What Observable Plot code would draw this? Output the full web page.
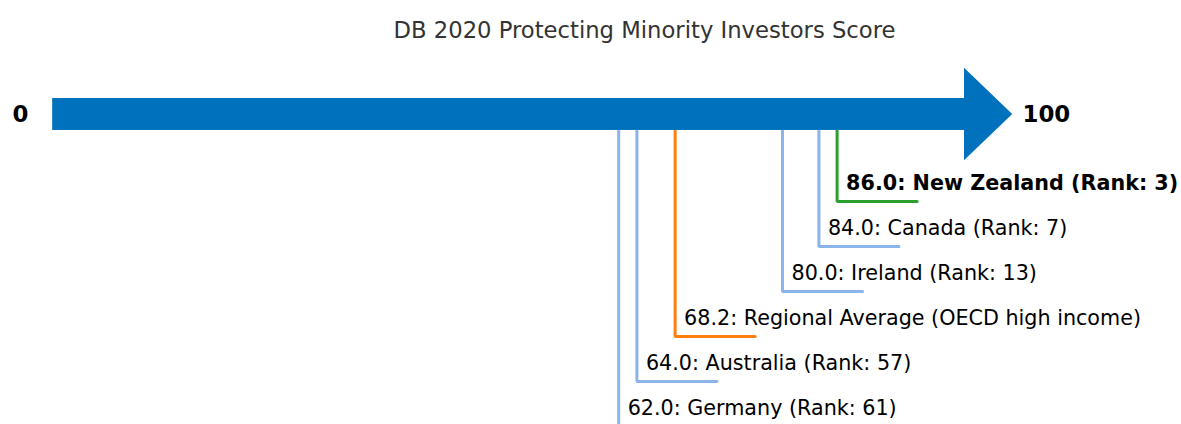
<!DOCTYPE html>
<html>
<head>
<meta charset="utf-8">
<script src="https://cdn.jsdelivr.net/npm/d3@7"></script>
<script src="https://cdn.jsdelivr.net/npm/@observablehq/plot@0.6"></script>
<style>
  html, body { margin: 0; padding: 0; background: #fff; }
  svg { display: block; }
</style>
</head>
<body>
<div id="chart"></div>
<script>
// ---- data ----
const names = ["New Zealand", "Canada", "Ireland", "Regional Average (OECD high income)", "Australia", "Germany"];
const scores = [86.0, 84.0, 80.0, 68.2, 64.0, 62.0];
const ranks = [3, 7, 13, null, 57, 61];
const kinds = ["focus", "peer", "peer", "region", "peer", "peer"];
const title = "DB 2020 Protecting Minority Investors Score";
const axisMin = 0;
const axisMax = 100;

// ---- layout helpers (not data) ----
const W = 1181, H = 424;
const arrowY = 2.533, arrowHalf = 0.355, headHalf = 1.03, headLen = 5.3;
const firstRow = 4.467, legLen = 8.8;
const colors = {focus: "#2ca02c", peer: "#8ab4ea", region: "#ff7f0e"};

const rows = names.map((n, i) => ({
  name: n, score: scores[i], rank: ranks[i], kind: kinds[i],
  row: firstRow + i,
  label: `${scores[i].toFixed(1)}: ${n}` + (ranks[i] != null ? ` (Rank: ${ranks[i]})` : "")
}));
const pts = rows.flatMap(r => [
  {id: r.name, kind: r.kind, x: r.score, y: arrowY + arrowHalf},
  {id: r.name, kind: r.kind, x: r.score, y: r.row},
  {id: r.name, kind: r.kind, x: r.score + legLen, y: r.row}
]);

const chart = Plot.plot({
  width: W, height: H,
  marginLeft: 54, marginRight: W - 964, marginTop: 0, marginBottom: 0,
  x: {domain: [axisMin, axisMax], axis: null},
  y: {domain: [0, H / 45], range: [0, H], axis: null},
  style: {fontFamily: "DejaVu Sans, sans-serif", background: "#fff"},
  marks: [
    Plot.text([title], {frameAnchor: "top", dy: 30, dx: 135, text: d => d, fontSize: 22.7, fill: "#333", lineAnchor: "middle"}),
    Plot.line(pts, {x: "x", y: "y", z: "id", stroke: d => colors[d.kind], strokeWidth: 3, strokeLinejoin: "miter"}),
    Plot.rect([0], {x1: -0.2, x2: axisMax, y1: arrowY - arrowHalf, y2: arrowY + arrowHalf, fill: "#0071bc"}),
    Plot.areaY([{x: axisMax, y1: arrowY - headHalf, y2: arrowY + headHalf}, {x: axisMax + headLen, y1: arrowY, y2: arrowY}],
      {x: "x", y1: "y1", y2: "y2", fill: "#0071bc"}),
    Plot.text([axisMin], {x: d => d, y: arrowY, text: d => String(d), dx: -34, fontSize: 22.9, fontWeight: "bold", fill: "#000"}),
    Plot.text([axisMax], {x: d => d, y: arrowY, text: d => String(d), dx: 58, textAnchor: "start", fontSize: 22.9, fontWeight: "bold", fill: "#000"}),
    Plot.text(rows.filter(d => d.kind !== "focus"), {x: "score", y: d => d.row - 0.4, text: "label", dx: 9, textAnchor: "start", fontSize: 20.7, fill: "#000"}),
    Plot.text(rows.filter(d => d.kind === "focus"), {x: "score", y: d => d.row - 0.4, text: "label", dx: 9, textAnchor: "start", fontSize: 20.7, fontWeight: "bold", fill: "#000"})
  ]
});
document.getElementById("chart").appendChild(chart);
</script>
</body>
</html>
